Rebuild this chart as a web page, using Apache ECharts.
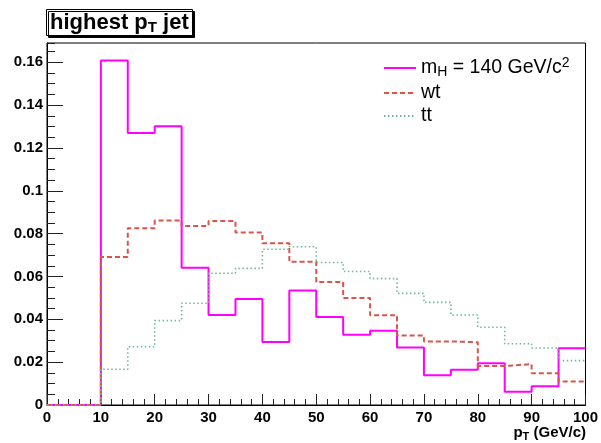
<!DOCTYPE html>
<html>
<head>
<meta charset="utf-8">
<script src="https://cdn.jsdelivr.net/npm/echarts@6/dist/echarts.min.js"></script>
<style>html,body{margin:0;padding:0;background:#fff}#c{width:601px;height:443px}</style>
</head>
<body>
<div id="c"></div>
<script>
// bin low edges (GeV/c), width 5
var binEdges = [0,5,10,15,20,25,30,35,40,45,50,55,60,65,70,75,80,85,90,95];
var xMaxEdge = 100;
var mH140 = [0,0,0.1608,0.1270,0.1301,0.0641,0.0420,0.0495,0.0294,0.0534,0.0411,0.0328,0.0347,0.0268,0.0139,0.0165,0.0195,0.0062,0.0087,0.0265];
var wt    = [0,0,0.0691,0.0825,0.0861,0.0836,0.0859,0.0805,0.0755,0.0669,0.0574,0.0500,0.0419,0.0324,0.0297,0.0293,0.0182,0.0191,0.0148,0.0110];
var tt    = [0,0,0.0167,0.0272,0.0394,0.0475,0.0615,0.0638,0.0727,0.0739,0.0665,0.0623,0.0590,0.0521,0.0479,0.0420,0.0363,0.0286,0.0266,0.0207];
var xTicks = [0,10,20,30,40,50,60,70,80,90,100];
var yTicks = [0,0.02,0.04,0.06,0.08,0.1,0.12,0.14,0.16];

function steps(vals){
  var d = binEdges.map(function(e,i){return [e, vals[i]];});
  d.push([xMaxEdge, vals[vals.length-1]]);
  return d;
}
var FONT = '"Liberation Sans", Arial, sans-serif';
var chart = echarts.init(document.getElementById('c'), null, {renderer:'canvas'});
var option = {
  animation: false,
  backgroundColor: '#fff',
  title: {
    text: '{a|highest p}{s|T}{a| jet}',
    left: 46, top: 9,
    padding: [2,4,1,4],
    backgroundColor: '#fff',
    borderColor: '#000', borderWidth: 1,
    shadowColor: '#000', shadowBlur: 0, shadowOffsetX: 2, shadowOffsetY: 2,
    textStyle: {
      rich: {
        a: {fontFamily: FONT, fontWeight: 'bold', fontSize: 22, color: '#000', lineHeight: 24},
        s: {fontFamily: FONT, fontWeight: 'bold', fontSize: 15, color: '#000', padding: [9,0,0,0], lineHeight: 24}
      }
    }
  },
  legend: {
    orient: 'vertical',
    left: 378, top: 51,
    itemWidth: 32, itemHeight: 20, itemGap: 3,
    itemStyle: {opacity: 0},
    data: ['mH','wt','tt'],
    formatter: function(n){
      if (n === 'mH') return '{t|m}{sub|H}{t| = 140 GeV/c}{sup|2}';
      return '{t|' + n + '}';
    },
    textStyle: {
      rich: {
        t: {fontFamily: FONT, fontSize: 19.5, color: '#000', lineHeight: 20},
        sub: {fontFamily: FONT, fontSize: 14, color: '#000', padding: [9,0,0,0], lineHeight: 20},
        sup: {fontFamily: FONT, fontSize: 14, color: '#000', padding: [0,0,10,0], lineHeight: 20}
      }
    }
  },
  grid: {left: 47, right: 15, top: 43, bottom: 38, show: true, borderColor: '#000', borderWidth: 1, backgroundColor: 'transparent'},
  xAxis: [{
    type: 'value', min: 0, max: 100, interval: 10,
    axisLine: {show: true, lineStyle: {color: '#000', width: 1}},
    axisTick: {show: true, inside: true, length: 11, lineStyle: {color: '#222'}},
    splitLine: {show: false},
    axisLabel: {fontFamily: FONT, fontWeight: 'bold', fontSize: 15, color: '#000', margin: 5}
  },{
    type: 'value', min: 0, max: 100, interval: 2, position: 'bottom',
    axisLine: {show: false},
    axisTick: {show: true, inside: true, length: 6, lineStyle: {color: '#222'}},
    splitLine: {show: false}, axisLabel: {show: false}
  }],
  yAxis: [{
    type: 'value', min: 0, max: 0.169, interval: 0.02,
    axisLine: {show: true, lineStyle: {color: '#000', width: 1}},
    axisTick: {show: true, inside: true, length: 16, lineStyle: {color: '#222'}},
    splitLine: {show: false},
    axisLabel: {fontFamily: FONT, fontWeight: 'bold', fontSize: 15, color: '#000', margin: 4, showMaxLabel: false,
      formatter: function(v){ return yTicks.indexOf(+v.toFixed(3)) >= 0 ? String(+v.toFixed(3)) : ''; }}
  },{
    type: 'value', min: 0, max: 0.169, interval: 0.005, position: 'left',
    axisLine: {show: false},
    axisTick: {show: true, inside: true, length: 8, lineStyle: {color: '#222'}},
    splitLine: {show: false}, axisLabel: {show: false}
  }],
  graphic: [{
    type: 'text', right: 15, top: 424,
    style: {
      text: '{a|p}{s|T}{a| (GeV/c)}',
      rich: {
        a: {fontFamily: FONT, fontWeight: 'bold', fontSize: 15, fill: '#000', lineHeight: 18},
        s: {fontFamily: FONT, fontWeight: 'bold', fontSize: 11, fill: '#000', padding: [7,0,0,0], lineHeight: 18}
      }
    }
  }],
  series: [{
    name: 'mH', type: 'line', step: 'end', symbol: 'none', data: steps(mH140),
    lineStyle: {color: '#ff00ff', width: 2}, itemStyle: {color: '#ff00ff'}
  },{
    name: 'wt', type: 'line', step: 'end', symbol: 'none', data: steps(wt),
    lineStyle: {color: '#d9554c', width: 2, type: [5,3]}, itemStyle: {color: '#d9554c'}
  },{
    name: 'tt', type: 'line', step: 'end', symbol: 'none', data: steps(tt),
    lineStyle: {color: '#6cbb98', width: 1.6, type: [1.5,2.5]}, itemStyle: {color: '#6cbb98'}
  }]
};
chart.setOption(option);
</script>
</body>
</html>
